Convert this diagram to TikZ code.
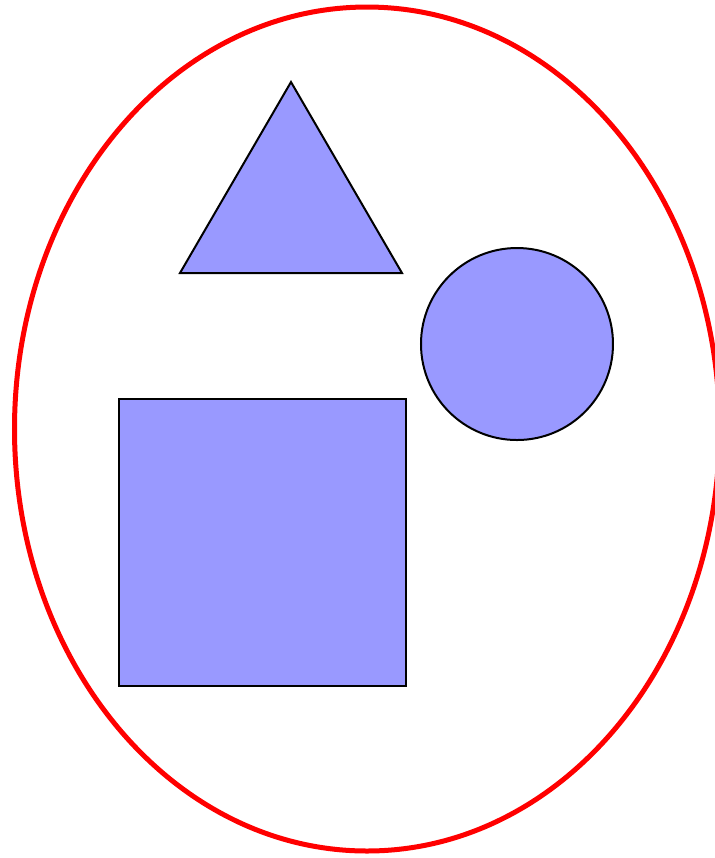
\documentclass[tikz,border=0pt]{standalone}
\usepackage{xcolor}
\usepackage{tikz}

\begin{document}
\begin{tikzpicture}[x=0.2pt,y=-0.2pt]
        \useasboundingbox (0,0) rectangle (715,858);
        \tikzset{shapefill/.style={draw=black,fill=blue!40,line width=0.4pt}}
        % Outline
        \draw[red,line width=1pt] (367,429) ellipse [x radius=352.5, y radius=422];
        % Shapes
        \draw[shapefill] (291,82) -- (402,273) -- (180,273) -- cycle;
        \draw[shapefill] (517,344) circle [radius=96];
        \draw[shapefill] (119,399) rectangle (406,686);
    \end{tikzpicture}
\end{document}
